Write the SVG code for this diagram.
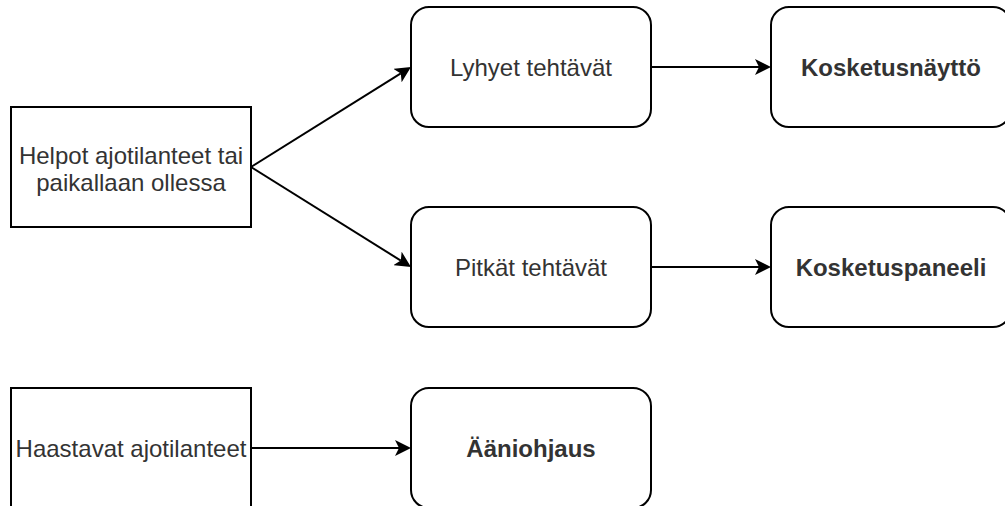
<svg xmlns="http://www.w3.org/2000/svg" width="1005" height="506" viewBox="0 0 1005 506">
  <style>
    .box { fill: #ffffff; stroke: #000000; stroke-width: 2; }
    .txt { font-family: "Liberation Sans", Arial, sans-serif; font-size: 24px; fill: #333333; text-anchor: middle; }
    .bold { font-weight: bold; }
    .edge { fill: none; stroke: #000000; stroke-width: 2; }
  </style>
  <defs>
    <marker id="arrow" markerUnits="userSpaceOnUse" viewBox="0 0 16 16" markerWidth="16" markerHeight="16" refX="4" refY="8" orient="auto">
      <path d="M0,0 L16,8 L0,16 L4,8 Z" fill="#000000"/>
    </marker>
  </defs>
  <rect width="1005" height="506" fill="#ffffff"/>

  <g id="connectors">
    <line class="edge" x1="251" y1="167" x2="400.8" y2="73.4" marker-end="url(#arrow)"/>
    <line class="edge" x1="251" y1="167" x2="400.8" y2="260.6" marker-end="url(#arrow)"/>
    <line class="edge" x1="651" y1="67" x2="759" y2="67" marker-end="url(#arrow)"/>
    <line class="edge" x1="651" y1="267" x2="759" y2="267" marker-end="url(#arrow)"/>
    <line class="edge" x1="251" y1="448" x2="399" y2="448" marker-end="url(#arrow)"/>
  </g>

  <g id="helpot">
    <rect class="box" x="11" y="107" width="240" height="120"/>
    <text class="txt" x="131" y="164">Helpot ajotilanteet tai</text>
    <text class="txt" x="131" y="191">paikallaan ollessa</text>
  </g>

  <g id="haastavat">
    <rect class="box" x="11" y="388" width="240" height="120"/>
    <text class="txt" x="131" y="457">Haastavat ajotilanteet</text>
  </g>

  <g id="lyhyet">
    <rect class="box" x="411" y="7" width="240" height="120" rx="18" ry="18"/>
    <text class="txt" x="531" y="76">Lyhyet tehtävät</text>
  </g>

  <g id="pitkat">
    <rect class="box" x="411" y="207" width="240" height="120" rx="18" ry="18"/>
    <text class="txt" x="531" y="276">Pitkät tehtävät</text>
  </g>

  <g id="aaniohjaus">
    <rect class="box" x="411" y="388" width="240" height="120" rx="18" ry="18"/>
    <text class="txt bold" x="531" y="457">Ääniohjaus</text>
  </g>

  <g id="kosketusnaytto">
    <rect class="box" x="771" y="7" width="240" height="120" rx="18" ry="18"/>
    <text class="txt bold" x="891" y="76">Kosketusnäyttö</text>
  </g>

  <g id="kosketuspaneeli">
    <rect class="box" x="771" y="207" width="240" height="120" rx="18" ry="18"/>
    <text class="txt bold" x="891" y="276">Kosketuspaneeli</text>
  </g>
</svg>
